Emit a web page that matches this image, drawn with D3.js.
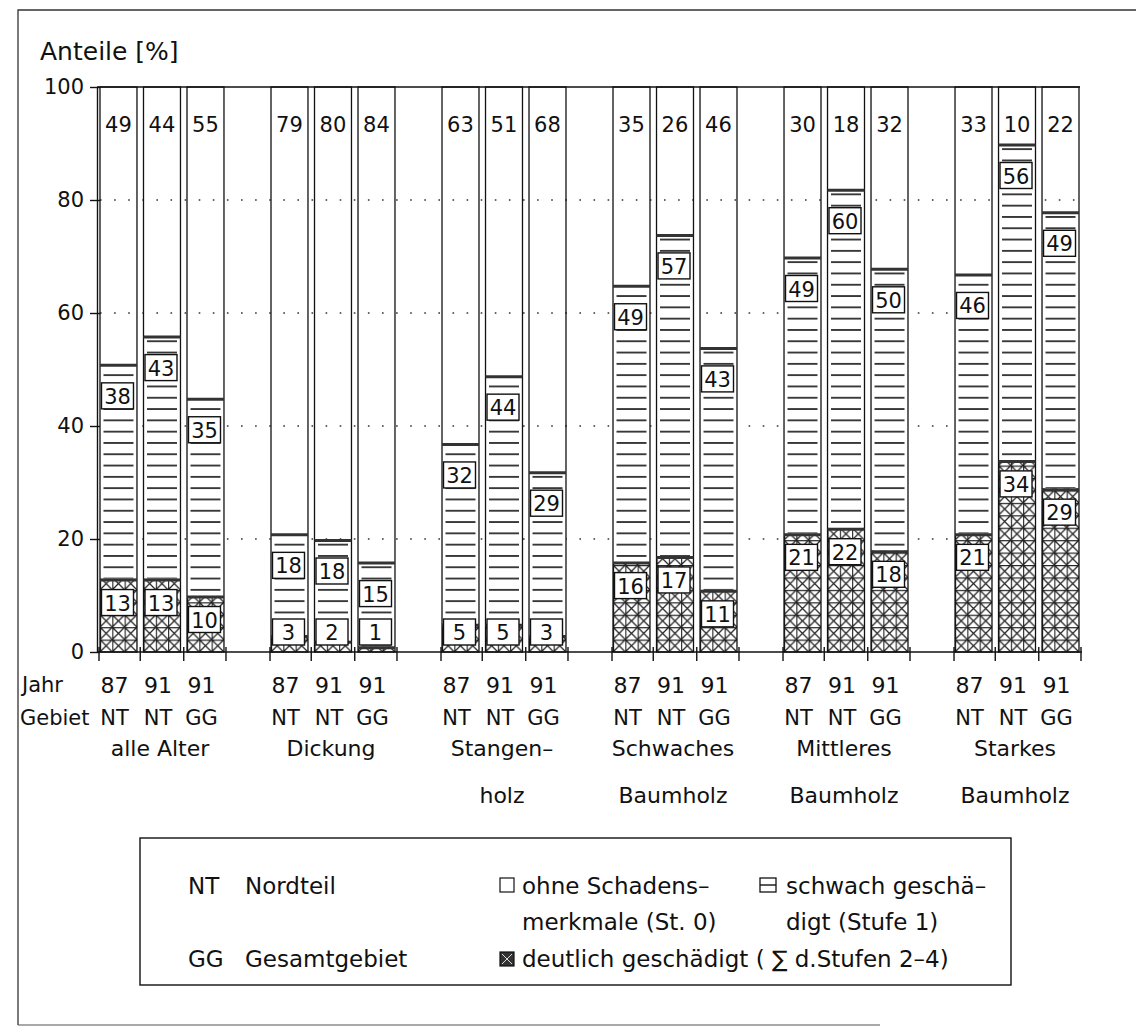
<!DOCTYPE html>
<html>
<head>
<meta charset="utf-8">
<script src="https://cdn.jsdelivr.net/npm/d3@7"></script>
<style>
  html, body { margin: 0; padding: 0; background: #fff; }
  svg { display: block; }
  text { font-family: "DejaVu Sans", sans-serif; fill: #111; }
</style>
</head>
<body>
<svg id="chart" width="1136" height="1033"></svg>
<script>
// ---- data ----
const groups = ["alle Alter", "Dickung", "Stangenholz", "Schwaches Baumholz", "Mittleres Baumholz", "Starkes Baumholz"];
const groupLabelLines = [["alle Alter"], ["Dickung"], ["Stangen–", "holz"], ["Schwaches", "Baumholz"], ["Mittleres", "Baumholz"], ["Starkes", "Baumholz"]];
const years = ["87", "91", "91"];
const areas = ["NT", "NT", "GG"];
// per group, per bar (87 NT, 91 NT, 91 GG)
const ohne = [[49, 44, 55], [79, 80, 84], [63, 51, 68], [35, 26, 46], [30, 18, 32], [33, 10, 22]];
const schwach = [[38, 43, 35], [18, 18, 15], [32, 44, 29], [49, 57, 43], [49, 60, 50], [46, 56, 49]];
const deutlich = [[13, 13, 10], [3, 2, 1], [5, 5, 3], [16, 17, 11], [21, 22, 18], [21, 34, 29]];
const yTicks = [0, 20, 40, 60, 80, 100];

const svg = d3.select("#chart");
const y = d3.scaleLinear().domain([0, 100]).range([652, 87]);
const x0 = d3.scaleBand().domain(groups).range([100, 1079]).paddingInner(0.275).paddingOuter(0);
const x1 = d3.scaleBand().domain([0, 1, 2]).range([0, x0.bandwidth()]).paddingInner(0.15).paddingOuter(0);

// frame
svg.append("path").attr("d", "M18,1025 V10 H1136").attr("fill", "none").attr("stroke", "#333").attr("stroke-width", 1.3);
svg.append("path").attr("d", "M18,1025 H880").attr("fill", "none").attr("stroke", "#555").attr("stroke-width", 1.2);

// patterns
const defs = svg.append("defs");
const ph = y(0) - y(2);
const hp = defs.append("pattern").attr("id", "hlines").attr("patternUnits", "userSpaceOnUse")
  .attr("width", 10).attr("height", ph).attr("y", y(0));
hp.append("rect").attr("width", 10).attr("height", ph).attr("fill", "#fff");
hp.append("path").attr("d", `M0,${ph/2} H10`).attr("stroke", "#222").attr("stroke-width", 1.7);

const cw = 12.3, chh = y(0) - y(2.2);
const xp = defs.append("pattern").attr("id", "xhatch").attr("patternUnits", "userSpaceOnUse")
  .attr("width", cw).attr("height", chh).attr("y", y(0));
xp.append("rect").attr("width", cw).attr("height", chh).attr("fill", "#fff");
xp.append("path").attr("d", `M0,0 L${cw},${chh} M${cw},0 L0,${chh} M0,0.5 H${cw} M0.5,0 V${chh}`)
  .attr("stroke", "#222").attr("stroke-width", 1.25).attr("fill", "none");

// axis title
svg.append("text").attr("x", 40).attr("y", 60).attr("font-size", 25).text("Anteile [%]");

// gridlines (dotted)
svg.append("g").selectAll("line").data(yTicks.filter(d => d > 0 && d < 100)).join("line")
  .attr("x1", 100).attr("x2", 1080).attr("y1", d => y(d)).attr("y2", d => y(d))
  .attr("stroke", "#333").attr("stroke-width", 1.6).attr("stroke-dasharray", "1.6,12.5");

// y axis
const yAxis = svg.append("g").attr("transform", "translate(97,0)")
  .call(d3.axisLeft(y).tickValues(yTicks).tickSize(7).tickSizeOuter(0).tickPadding(6).tickFormat(d3.format("d")));
yAxis.select(".domain").attr("stroke", "#111").attr("stroke-width", 1.4);
yAxis.selectAll(".tick line").attr("stroke", "#111").attr("stroke-width", 1.4).attr("x2", 3).attr("x1", -7);
yAxis.selectAll(".tick text").attr("font-size", 21).attr("font-family", "DejaVu Sans").attr("fill", "#111");

// top line at 100
svg.append("line").attr("x1", 97).attr("x2", 1080).attr("y1", y(100)).attr("y2", y(100))
  .attr("stroke", "#111").attr("stroke-width", 1.4);

// bars
const barData = [];
groups.forEach((g, gi) => {
  [0, 1, 2].forEach(bi => {
    barData.push({ g, gi, bi, o: ohne[gi][bi], s: schwach[gi][bi], d: deutlich[gi][bi] });
  });
});
const bw = x1.bandwidth();
const bars = svg.append("g").selectAll("g").data(barData).join("g")
  .attr("transform", d => `translate(${x0(d.g) + x1(d.bi)},0)`);

// deutlich segment
bars.append("rect").attr("x", 0).attr("width", bw)
  .attr("y", d => y(d.d)).attr("height", d => y(0) - y(d.d))
  .attr("fill", "url(#xhatch)").attr("stroke", "none");
// schwach segment
bars.append("rect").attr("x", 0).attr("width", bw)
  .attr("y", d => y(d.d + d.s)).attr("height", d => y(d.d) - y(d.d + d.s))
  .attr("fill", "#fff");
bars.append("rect").attr("x", 3.5).attr("width", bw - 7)
  .attr("y", d => y(d.d + d.s) + 3).attr("height", d => Math.max(0, y(d.d) - y(d.d + d.s) - 3))
  .attr("fill", "url(#hlines)");
// outline
bars.append("rect").attr("x", 0).attr("width", bw)
  .attr("y", y(100)).attr("height", y(0) - y(100))
  .attr("fill", "none").attr("stroke", "#111").attr("stroke-width", 1.3);
// boundary lines
bars.append("line").attr("x1", 0).attr("x2", bw)
  .attr("y1", d => y(d.d + d.s) + 1.5).attr("y2", d => y(d.d + d.s) + 1.5)
  .attr("stroke", "#333").attr("stroke-width", 3);
bars.append("line").attr("x1", 0).attr("x2", bw)
  .attr("y1", d => y(d.d) + 1.5).attr("y2", d => y(d.d) + 1.5)
  .attr("stroke", "#333").attr("stroke-width", 3);

// labels
bars.append("text").attr("x", bw / 2).attr("y", 125).attr("text-anchor", "middle")
  .attr("dominant-baseline", "central").attr("font-size", 21).text(d => d.o);

function boxLabel(sel, cy, val) {
  const gLab = sel.append("g").attr("transform", d => `translate(${bw / 2 - 1},${cy(d)})`);
  gLab.append("rect").attr("x", -16).attr("y", -13).attr("width", 32).attr("height", 26)
    .attr("fill", "#fff").attr("stroke", "#111").attr("stroke-width", 1.4);
  gLab.append("text").attr("text-anchor", "middle").attr("dominant-baseline", "central")
    .attr("y", 1).attr("font-size", 21).text(val);
}
boxLabel(bars, d => y(d.d + d.s) + 32, d => d.s);
boxLabel(bars, d => Math.min(y(d.d) + 24, y(0) - 20), d => d.d);

// x baseline and ticks
svg.append("line").attr("x1", 97).attr("x2", 1082).attr("y1", y(0)).attr("y2", y(0))
  .attr("stroke", "#111").attr("stroke-width", 1.4);
const tickXs = [];
groups.forEach(g => {
  const base = x0(g);
  tickXs.push(base - 1);
  tickXs.push(base + x1(1) - (x1.step() - bw) / 2);
  tickXs.push(base + x1(2) - (x1.step() - bw) / 2);
  tickXs.push(base + x0.bandwidth() + 2);
});
svg.append("g").selectAll("line").data(tickXs).join("line")
  .attr("x1", d => d).attr("x2", d => d).attr("y1", y(0) - 5).attr("y2", y(0) + 9)
  .attr("stroke", "#111").attr("stroke-width", 1.4);

// category labels
svg.append("text").attr("x", 22).attr("y", 685).attr("dominant-baseline", "central").attr("font-size", 21).text("Jahr");
svg.append("text").attr("x", 20).attr("y", 718).attr("dominant-baseline", "central").attr("font-size", 21)
  .attr("font-family", "DejaVu Sans Condensed").text("Gebiet");
const lab = svg.append("g").selectAll("g").data(barData).join("g")
  .attr("transform", d => `translate(${x0(d.g) + x1(d.bi) + bw / 2 - 4},0)`);
lab.append("text").attr("y", 685).attr("text-anchor", "middle").attr("dominant-baseline", "central")
  .attr("font-size", 22).text(d => years[d.bi]);
lab.append("text").attr("y", 718).attr("text-anchor", "middle").attr("dominant-baseline", "central")
  .attr("font-size", 21).attr("font-family", "DejaVu Sans Condensed").text(d => areas[d.bi]);

groups.forEach((g, gi) => {
  groupLabelLines[gi].forEach((ln, li) => {
    svg.append("text").attr("x", x0(g) + x0.bandwidth() / 2 - 2).attr("y", 748 + li * 47)
      .attr("text-anchor", "middle").attr("dominant-baseline", "central").attr("font-size", 22).text(ln);
  });
});

// legend
const lg = svg.append("g");
lg.append("rect").attr("x", 140).attr("y", 838).attr("width", 871).attr("height", 147)
  .attr("fill", "none").attr("stroke", "#111").attr("stroke-width", 1.4);
const lt = (x, yy, t, fam) => lg.append("text").attr("x", x).attr("y", yy).attr("dominant-baseline", "central")
  .attr("font-size", 23).attr("font-family", fam || "DejaVu Sans").text(t);
lt(188, 886, "NT", "DejaVu Sans Condensed");
lt(245, 886, "Nordteil");
lt(188, 959, "GG", "DejaVu Sans Condensed");
lt(245, 959, "Gesamtgebiet");
lg.append("rect").attr("x", 500).attr("y", 878).attr("width", 14).attr("height", 14)
  .attr("fill", "#fff").attr("stroke", "#111").attr("stroke-width", 1.2);
lt(522, 886, "ohne Schadens–");
lt(522, 922, "merkmale (St. 0)");
lg.append("rect").attr("x", 760).attr("y", 878).attr("width", 16).attr("height", 14)
  .attr("fill", "#fff").attr("stroke", "#111").attr("stroke-width", 1.3);
lg.append("line").attr("x1", 760).attr("x2", 776).attr("y1", 885).attr("y2", 885)
  .attr("stroke", "#111").attr("stroke-width", 1.4);
lt(786, 886, "schwach geschä–");
lt(786, 922, "digt (Stufe 1)");
lg.append("rect").attr("x", 500).attr("y", 952).attr("width", 14).attr("height", 14)
  .attr("fill", "#333").attr("stroke", "#111").attr("stroke-width", 1.2);
lg.append("path").attr("d", "M502,954 L512,964 M512,954 L502,964").attr("stroke", "#ddd").attr("stroke-width", 1);
lt(522, 959, "deutlich geschädigt ( ∑ d.Stufen 2–4)");
</script>
</body>
</html>
